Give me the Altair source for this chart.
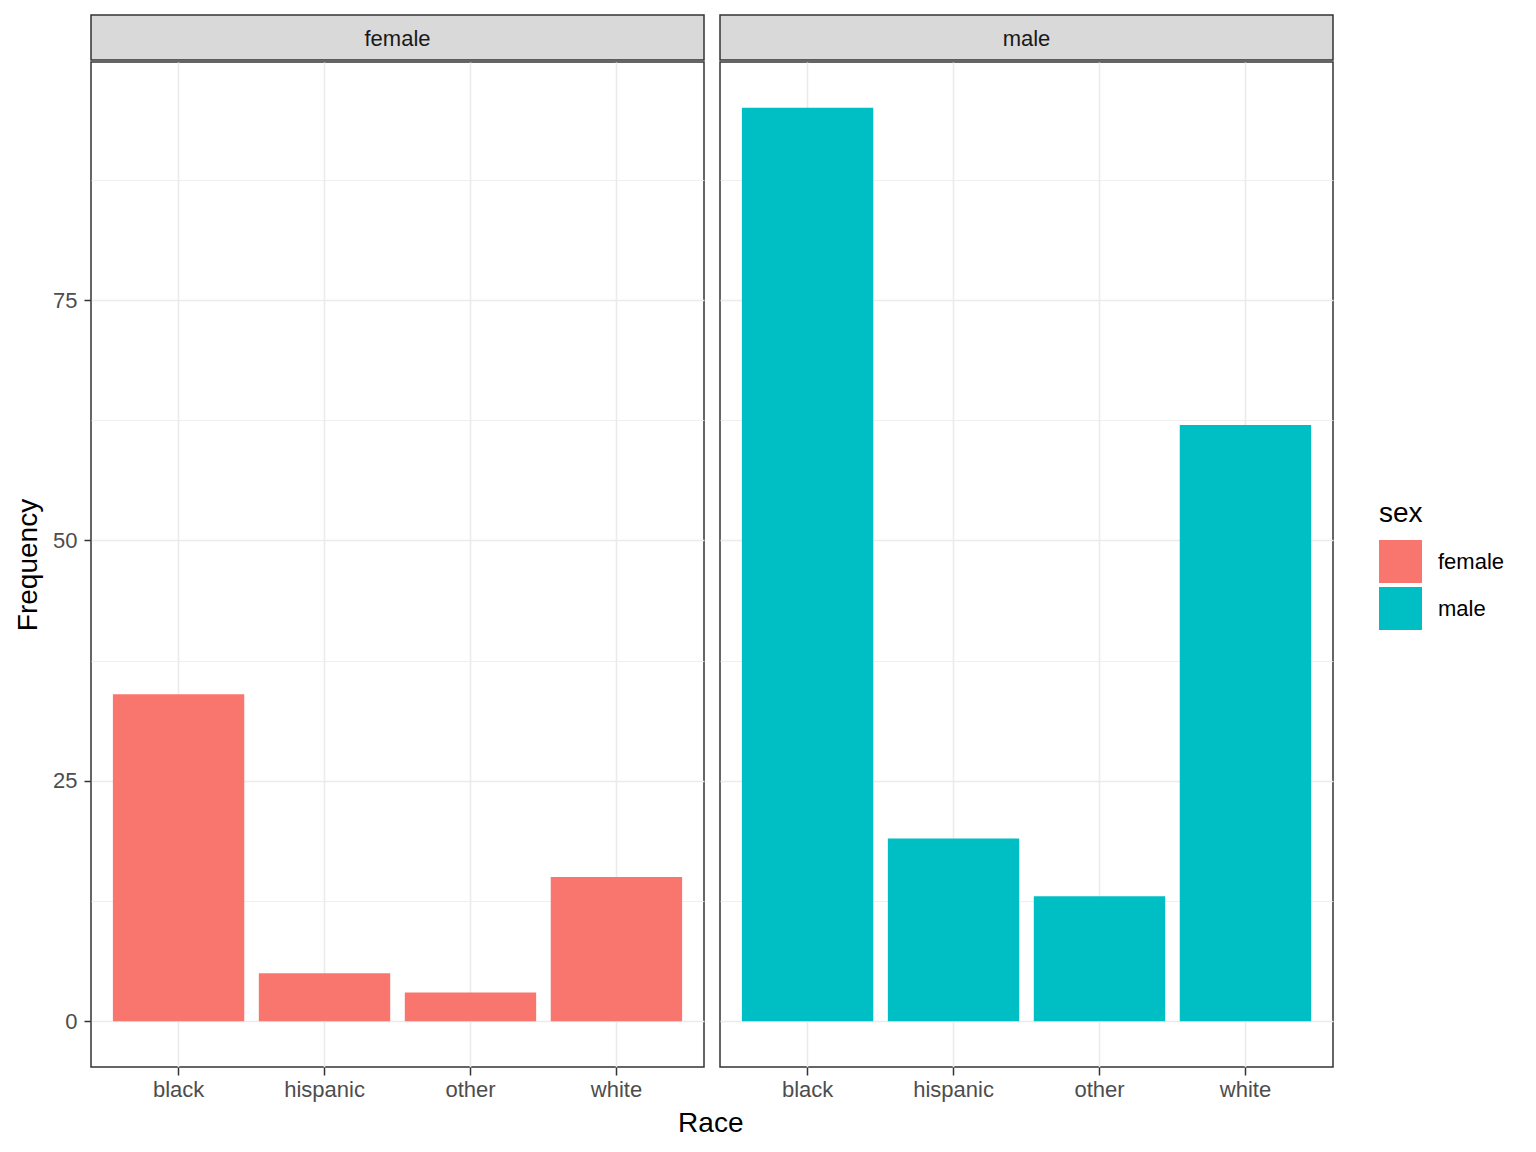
import altair as alt
import pandas as pd

races = ["black", "hispanic", "other", "white"]
sexes = ["female", "male"]
female_counts = [34, 5, 3, 15]
male_counts = [95, 19, 13, 62]
colors = ["#F8766D", "#00BFC4"]
y_grid = [0, 12.5, 25, 37.5, 50, 62.5, 75, 87.5]

FONT = "Liberation Sans"
PW, PH, SH = 613, 1005, 45
TICK_FS, TITLE_FS = 22, 28


def panel(sex, counts, first):
    df = pd.DataFrame({"race": races, "sex": [sex] * len(races), "count": counts})
    xaxis = alt.Axis(
        title=None,
        labelAngle=0, labelFontSize=TICK_FS, labelColor="#4D4D4D", labelFont=FONT,
        labelPadding=4, tickSize=8, tickColor="#333333", tickWidth=1.5,
        domain=False, grid=True, gridColor="#EBEBEB", gridWidth=1.6,
        bandPosition=0.5,
    )
    grid_w = {"condition": {"test": "datum.value % 25 === 0", "value": 1.6}, "value": 0.8}
    if first:
        yaxis = alt.Axis(
            title="Frequency", titleFontSize=TITLE_FS, titleFontWeight="normal",
            titleColor="black", titleFont=FONT, titlePadding=10,
            values=y_grid, labelExpr="datum.value % 25 === 0 ? datum.label : ''",
            labelFontSize=TICK_FS, labelColor="#4D4D4D", labelFont=FONT, labelPadding=7,
            tickSize=7, tickColor="#333333", tickWidth=1.5,
            tickOpacity={"condition": {"test": "datum.value % 25 === 0", "value": 1}, "value": 0},
            domain=False, grid=True, gridColor="#EBEBEB", gridWidth=grid_w,
        )
    else:
        yaxis = alt.Axis(
            title=None, values=y_grid, labels=False, ticks=False, domain=False,
            grid=True, gridColor="#EBEBEB", gridWidth=grid_w,
        )
    main = alt.Chart(df).mark_bar().encode(
        x=alt.X("race:N", sort=races,
                scale=alt.Scale(domain=races, paddingInner=0.1, paddingOuter=0.15),
                axis=xaxis),
        y=alt.Y("count:Q", scale=alt.Scale(domain=[-4.75, 99.75], nice=False, zero=False),
                axis=yaxis),
        color=alt.Color("sex:N", scale=alt.Scale(domain=sexes, range=colors),
                        legend=alt.Legend(
                            title="sex", orient="none", legendX=1288, legendY=485,
                            titleFontSize=TITLE_FS, titleFontWeight="normal", titleFont=FONT,
                            titleColor="black", titlePadding=12,
                            labelFontSize=TICK_FS, labelFont=FONT, labelColor="black",
                            labelOffset=16, symbolType="square", symbolSize=1849,
                            symbolStrokeWidth=0, symbolOpacity=1, rowPadding=4,
                        )),
    ).properties(width=PW, height=PH)

    strip = alt.Chart(pd.DataFrame({"label": [sex]})).mark_text(
        fontSize=TICK_FS, font=FONT, color="#1A1A1A", align="center", baseline="middle"
    ).encode(
        text="label:N", x=alt.value(PW / 2), y=alt.value(SH / 2 + 1)
    ).properties(
        width=PW, height=SH,
        view=alt.ViewBackground(fill="#D9D9D9", stroke="#333333", strokeWidth=1.5),
    )
    return alt.vconcat(strip, main, spacing=0)


chart = alt.hconcat(
    panel("female", female_counts, True),
    panel("male", male_counts, False),
    spacing=14,
).resolve_scale(color="shared").properties(
    title=alt.TitleParams(
        "Race", orient="bottom", anchor="start", align="center", dx=697, offset=9,
        fontSize=TITLE_FS, fontWeight="normal", font=FONT, color="black",
    ),
    padding={"left": 5, "top": 6, "right": 10, "bottom": 5},
    background="white",
).configure_view(
    stroke="#333333", strokeWidth=1.5, fill="white"
)

chart.save("out.html", embed_options={"renderer": "svg", "actions": False})
